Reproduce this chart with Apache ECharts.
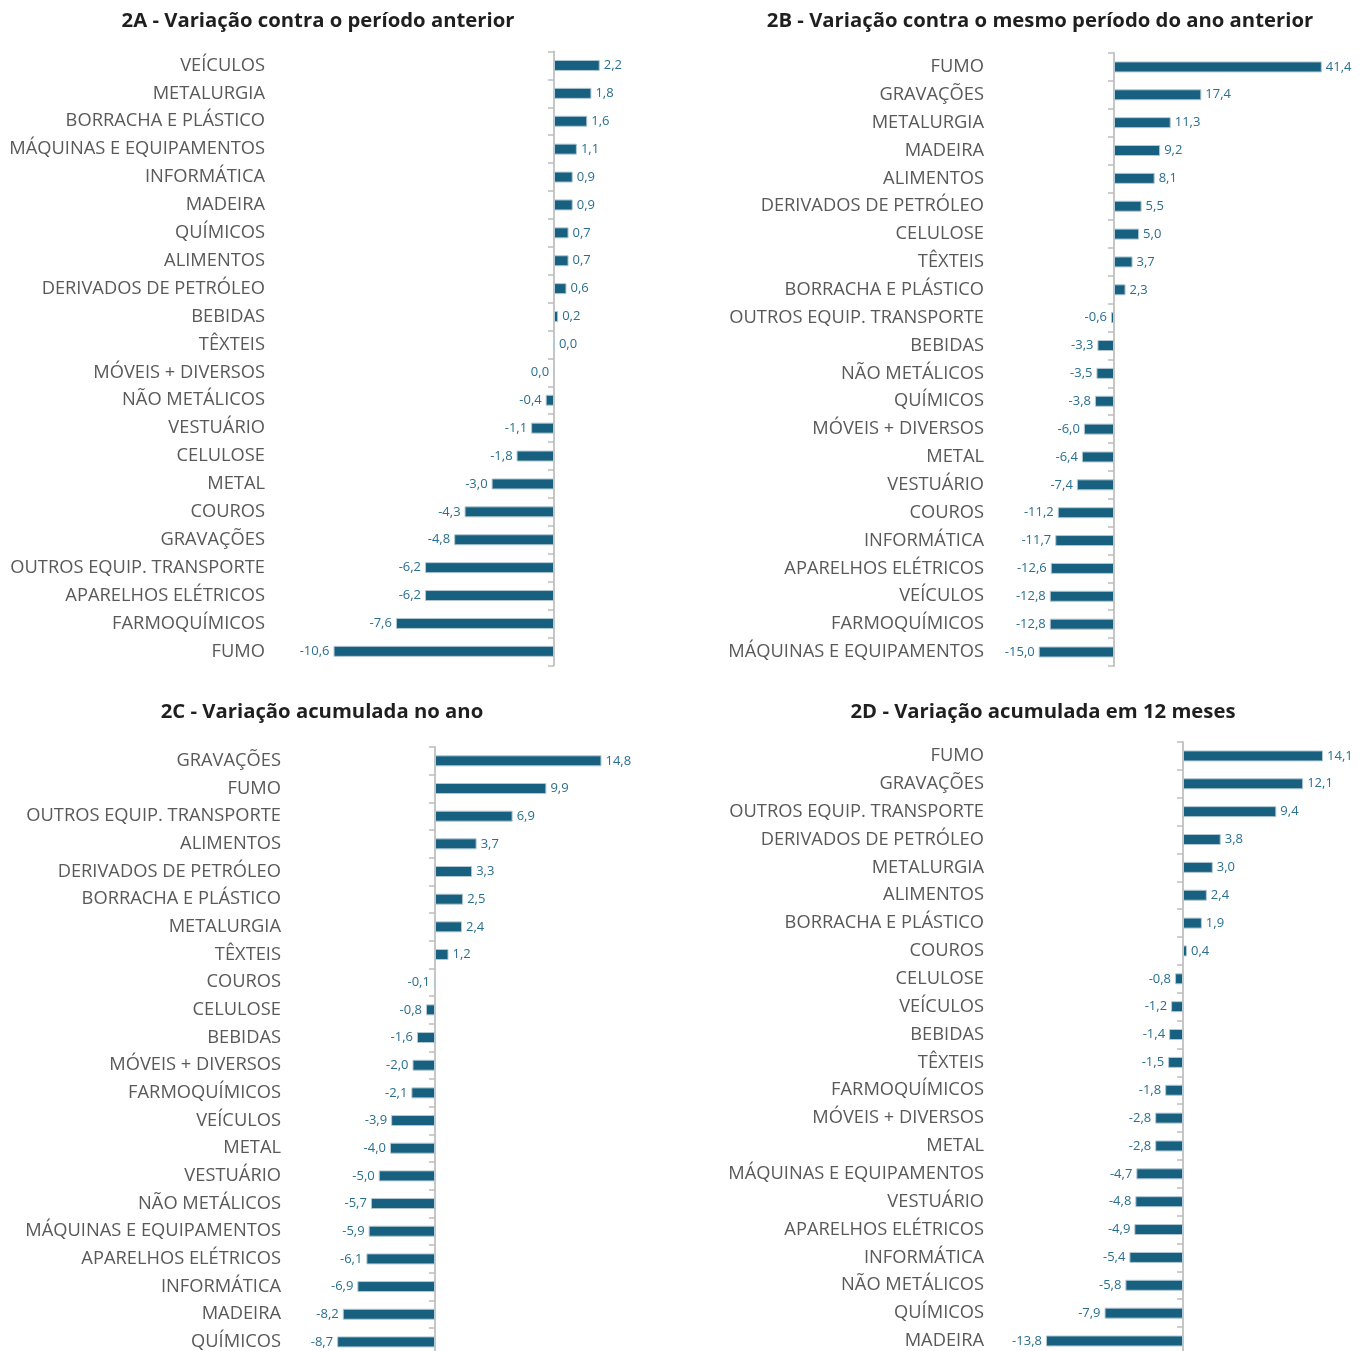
<!DOCTYPE html>
<html>
<head>
<meta charset="utf-8">
<script src="https://cdn.jsdelivr.net/npm/echarts@6/dist/echarts.min.js"></script>
<style>
  html, body { margin: 0; padding: 0; background: #fff; }
  #main { width: 1365px; height: 1351px; }
</style>
</head>
<body>
<div id="main"></div>
<script>
// 2A - Variação contra o período anterior
var catA = ['VEÍCULOS', 'METALURGIA', 'BORRACHA E PLÁSTICO', 'MÁQUINAS E EQUIPAMENTOS', 'INFORMÁTICA', 'MADEIRA',
	'QUÍMICOS', 'ALIMENTOS', 'DERIVADOS DE PETRÓLEO', 'BEBIDAS', 'TÊXTEIS', 'MÓVEIS + DIVERSOS', 'NÃO METÁLICOS',
	'VESTUÁRIO', 'CELULOSE', 'METAL', 'COUROS', 'GRAVAÇÕES', 'OUTROS EQUIP. TRANSPORTE', 'APARELHOS ELÉTRICOS',
	'FARMOQUÍMICOS', 'FUMO'];
var valA = [2.2, 1.8, 1.6, 1.1, 0.9, 0.9, 0.7, 0.7, 0.6, 0.2, 0.04, -0.04, -0.4, -1.1, -1.8, -3.0, -4.3, -4.8, -6.2, -6.2, -7.6, -10.6];

// 2B - Variação contra o mesmo período do ano anterior
var catB = ['FUMO', 'GRAVAÇÕES', 'METALURGIA', 'MADEIRA', 'ALIMENTOS', 'DERIVADOS DE PETRÓLEO', 'CELULOSE', 'TÊXTEIS',
	'BORRACHA E PLÁSTICO', 'OUTROS EQUIP. TRANSPORTE', 'BEBIDAS', 'NÃO METÁLICOS', 'QUÍMICOS', 'MÓVEIS + DIVERSOS',
	'METAL', 'VESTUÁRIO', 'COUROS', 'INFORMÁTICA', 'APARELHOS ELÉTRICOS', 'VEÍCULOS', 'FARMOQUÍMICOS', 'MÁQUINAS E EQUIPAMENTOS'];
var valB = [41.4, 17.4, 11.3, 9.2, 8.1, 5.5, 5.0, 3.7, 2.3, -0.6, -3.3, -3.5, -3.8, -6.0, -6.4, -7.4, -11.2, -11.7, -12.6, -12.8, -12.8, -15.0];

// 2C - Variação acumulada no ano
var catC = ['GRAVAÇÕES', 'FUMO', 'OUTROS EQUIP. TRANSPORTE', 'ALIMENTOS', 'DERIVADOS DE PETRÓLEO', 'BORRACHA E PLÁSTICO',
	'METALURGIA', 'TÊXTEIS', 'COUROS', 'CELULOSE', 'BEBIDAS', 'MÓVEIS + DIVERSOS', 'FARMOQUÍMICOS', 'VEÍCULOS', 'METAL',
	'VESTUÁRIO', 'NÃO METÁLICOS', 'MÁQUINAS E EQUIPAMENTOS', 'APARELHOS ELÉTRICOS', 'INFORMÁTICA', 'MADEIRA', 'QUÍMICOS'];
var valC = [14.8, 9.9, 6.9, 3.7, 3.3, 2.5, 2.4, 1.2, -0.1, -0.8, -1.6, -2.0, -2.1, -3.9, -4.0, -5.0, -5.7, -5.9, -6.1, -6.9, -8.2, -8.7];

// 2D - Variação acumulada em 12 meses
var catD = ['FUMO', 'GRAVAÇÕES', 'OUTROS EQUIP. TRANSPORTE', 'DERIVADOS DE PETRÓLEO', 'METALURGIA', 'ALIMENTOS',
	'BORRACHA E PLÁSTICO', 'COUROS', 'CELULOSE', 'VEÍCULOS', 'BEBIDAS', 'TÊXTEIS', 'FARMOQUÍMICOS', 'MÓVEIS + DIVERSOS',
	'METAL', 'MÁQUINAS E EQUIPAMENTOS', 'VESTUÁRIO', 'APARELHOS ELÉTRICOS', 'INFORMÁTICA', 'NÃO METÁLICOS', 'QUÍMICOS', 'MADEIRA'];
var valD = [14.1, 12.1, 9.4, 3.8, 3.0, 2.4, 1.9, 0.4, -0.8, -1.2, -1.4, -1.5, -1.8, -2.8, -2.8, -4.7, -4.8, -4.9, -5.4, -5.8, -7.9, -13.8];

var titles = ['2A - Variação contra o período anterior', '2B - Variação contra o mesmo período do ano anterior',
	'2C - Variação acumulada no ano', '2D - Variação acumulada em 12 meses'];

// layout of each panel (pixels)
var panels = [
	{cats: catA, vals: valA, zero: 554, ppu: 20.8, min: -12, max: 4, top: 51.5, rowH: 27.9, labelX: 265, titleX: 318, titleY: 11},
	{cats: catB, vals: valB, zero: 1114, ppu: 5.02, min: -20, max: 48, top: 53, rowH: 27.86, labelX: 984, titleX: 1040, titleY: 11},
	{cats: catC, vals: valC, zero: 435, ppu: 11.25, min: -10, max: 18, top: 747, rowH: 27.67, labelX: 281, titleX: 322, titleY: 702},
	{cats: catD, vals: valD, zero: 1183, ppu: 9.93, min: -16, max: 17, top: 742, rowH: 27.86, labelX: 984, titleX: 1043, titleY: 702}
];

function fmt(p) {
	var v = p.value;
	if (Math.abs(v) < 0.05) return '0,0';
	return v.toFixed(1).replace('.', ',');
}

var myChart = echarts.init(document.getElementById('main'));
var option = {
	animation: false,
	backgroundColor: '#fff',
	title: [],
	grid: [],
	xAxis: [],
	yAxis: [],
	series: []
};

panels.forEach(function (pn, i) {
	var gridLeft = pn.zero + pn.min * pn.ppu;
	option.title.push({
		text: titles[i],
		left: pn.titleX,
		top: pn.titleY,
		padding: 0,
		textAlign: 'center',
		textStyle: {fontFamily: 'Open Sans', fontWeight: 'bold', fontSize: 20.3, color: '#1f1f1f'}
	});
	option.grid.push({
		left: gridLeft,
		top: pn.top,
		width: (pn.max - pn.min) * pn.ppu,
		height: pn.cats.length * pn.rowH,
		outerBoundsMode: 'none',
		containLabel: false
	});
	option.xAxis.push({
		type: 'value',
		gridIndex: i,
		min: pn.min,
		max: pn.max,
		show: false
	});
	option.yAxis.push({
		type: 'category',
		gridIndex: i,
		inverse: true,
		data: pn.cats,
		axisLine: {onZero: true, lineStyle: {color: '#c6c6c6', width: 2}},
		axisTick: {show: true, length: 6, inside: false, lineStyle: {color: '#bdbdbd', width: 1.5}},
		axisLabel: {
			interval: 0,
			margin: gridLeft - pn.labelX,
			fontFamily: 'Open Sans',
			fontSize: 18.3,
			color: '#595959'
		},
		splitLine: {show: false}
	});
	option.series.push({
		type: 'bar',
		xAxisIndex: i,
		yAxisIndex: i,
		barWidth: 11,
		data: pn.vals.map(function (v) {
			return {value: v, label: {position: v < 0 ? 'left' : 'right'}};
		}),
		itemStyle: {color: '#17607f', borderColor: '#b3c8d3', borderWidth: 1},
		label: {
			show: true,
			distance: 4,
			formatter: fmt,
			fontFamily: 'Open Sans',
			fontSize: 13,
			color: '#2a6f8f'
		}
	});
});

myChart.setOption(option);
</script>
</body>
</html>
